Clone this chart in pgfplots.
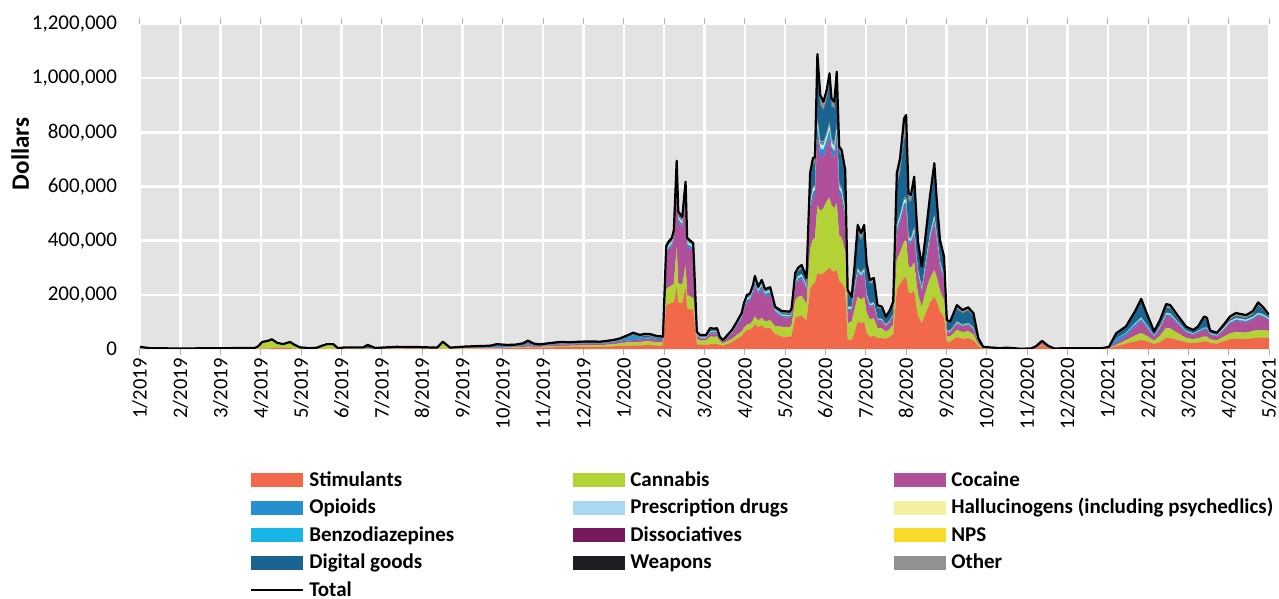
\documentclass[border=0pt]{standalone}
\usepackage{fontspec}
\setmainfont{Carlito}
\usepackage{pgfplots}
\usepackage{pgfplotstable}
\pgfplotsset{compat=1.18}

\definecolor{cSt}{RGB}{242,104,74}
\definecolor{cCa}{RGB}{178,210,53}
\definecolor{cCo}{RGB}{176,80,155}
\definecolor{cOp}{RGB}{36,144,208}
\definecolor{cPr}{RGB}{168,217,240}
\definecolor{cHa}{RGB}{243,240,160}
\definecolor{cBe}{RGB}{24,182,230}
\definecolor{cDi}{RGB}{118,25,92}
\definecolor{cNp}{RGB}{248,218,40}
\definecolor{cDg}{RGB}{26,100,145}
\definecolor{cWe}{RGB}{29,30,33}
\definecolor{cOt}{RGB}{143,145,146}
\definecolor{bgc}{RGB}{227,227,227}

\pgfplotsset{
  legend image code/.code={\fill[#1] (0pt,-3.5pt) rectangle (26pt,3.5pt);},
  totleg/.style={legend image code/.code={\draw[black,line width=1pt] (0pt,0pt) -- (26pt,0pt);}},
  frame/.style={scale only axis, width=564.5pt, height=162.5pt,
    xmin=0, xmax=28, ymin=0, ymax=1200},
}
\newcommand{\legbox}[1]{\makebox[129.5pt][l]{#1}}

% values in thousands of dollars, x in months from 1/2019
\pgfplotstableread{
x st ca co op pr ha be di np dg we ot tot
0.00 1 1 0 0 0 0 0 0 0 2 1 3 8
0.25 0.5 0.5 0 0 0 0 0 0 0 0.5 0 1.5 3
0.99 0.5 0.5 0 0 0 0 0 0 0 0 0 1 2
1.98 0.5 0.5 0 0 0 0 0 0 0 0.5 0 1.5 3
2.85 0.5 1.5 0 0 0 0 0 0 0 0.5 0 1.5 4
2.93 1 7 0 0 0 0 0 0 0 0 0 2 10
3.03 2 21 0 0 0 0 0 0 0 0 0 3 26
3.17 2 25 0 0 0 0 0 0 0 0 0 3 30
3.27 3 29 0 0 0 0 0 0 0 1 0 3 36
3.40 4 16 0 0 0 0 0 0 0 0 0 3 23
3.55 4 11 0 0 0 0 0 0 0 0 0 3 18
3.72 3 19 0 0 0 0 0 0 0 1 0 3 26
3.84 2 10 0 0 0 0 0 0 0 0 0 3 15
3.97 1 2 0 0 0 0 0 0 0 0 0 3 6
4.22 0.5 0.5 0 0 0 0 0 0 0 0 0 2 3
4.39 0.5 2 0 0 0 0 0 0 0 0 0 2.5 5
4.51 1 8 0 0 0 0 0 0 0 0 0 3 12
4.64 1 14 0 0 0 0 0 0 0 0 0 3 18
4.79 1 13 0 0 0 0 0 0 0 1 0 3 18
4.91 0.5 0.5 0 0 0 0 0 0 0 0 0 2 3
5.08 0.5 1 0 0 0 0 0 0 0 2 0 2.5 6
5.53 0.5 1 0 0 0 0 0 0 0 2 0 2.5 6
5.65 1 1 0 0 0 0 0 0 0 9 0 4 15
5.83 0.5 0.5 0 0 0 0 0 0 0 1 0 2 4
6.37 2 1 0 0 0 0 0 0 0 1 0 4 8
6.94 1 1 1 0 0 0 0 0 0 1 0 3 7
7.37 1 1 0 0 0 0 0 0 0 0 0 3 5
7.51 1 22 0 0 0 0 0 0 0 0 0 4 27
7.69 1 1 0 0 0 0 0 0 0 0 0 3 5
8.06 1 2 1 1 0 0 0 0 0 1 0 3 9
8.43 2 2 1 2 0 0 0 0 0 1 0 3 11
8.68 2 2 1 3 0 0 0 0 0 1 0 3 12
8.85 2 2 2 8 0 0 0 0 0 1 0 3 18
9.10 3 2 2 4 0 0 0 0 0 1 0 3 15
9.30 3 3 3 2 0 0 0 0 0 2 0 3 16
9.50 4 3 5 2 0 0 0 0 0 3 0 4 21
9.62 5 4 8 3 0 0 0 0 0 6 0 5 31
9.77 5 3 4 2 0 0 0 0 0 2 0 4 20
9.92 5 3 3 1 0 0 0 0 0 1 0 4 17
10.17 6 4 4 2 0 0 0 0 0 2 0 4 22
10.42 7 4 6 2 0 0 0 0 0 2 0 5 26
10.66 7 5 5 2 0 0 0 0 0 2 0 4 25
10.91 8 5 5 2 0 0 0 0 0 2 0 5 27
11.16 8 6 5 2 0 0 0 0 0 2 0 5 28
11.41 8 6 5 1 0 0 0 0 0 2 0 5 27
11.58 9 7 5 2 0 0 0 0 0 2 0 5 30
11.76 10 8 6 3 0 0 0 0 0 2 0 5 34
11.90 11 10 6 4 0 0 0 0 0 2 0 6 39
12.08 12 12 7 10 0 0 0 0 0 3 0 6 50
12.23 13 12 8 18 0 0 0 0 0 3 0 6 60
12.40 13 13 9 8 0 0 0 0 0 3 0 6 52
12.52 14 14 10 6 0 0 0 0 0 4 0 8 56
12.65 14 14 10 5 0 0 0 0 0 4 0 8 55
12.82 13 12 8 4 0 0 0 0 0 3 0 8 48
12.97 12 12 8 4 0 0 0 0 0 3 0 7 46
13.05 160 60 130 8 3 3 3 1 1 4 1 6 380
13.10 165 62 138 8 3 3 3 1 1 4 1 6 395
13.19 170 65 145 8 3 3 3 1 1 4 1 6 410
13.24 172 68 168 9 3 3 3 1 1 4 1 7 440
13.31 230 148 272 14 4 5 4 1 1 6 1 9 695
13.35 172 70 225 12 4 4 3 1 1 5 1 9 507
13.45 170 68 210 12 4 4 3 1 1 5 1 9 488
13.53 230 80 250 20 5 6 5 1 1 8 1 11 618
13.57 150 50 178 10 3 4 3 1 1 4 1 5 410
13.72 144 44 177 9 3 3 3 1 1 1 1 4 391
13.81 18 20 10 4 1 1 1 0 0 3 0 6 64
13.89 15 16 8 3 1 1 1 0 0 2 0 5 52
14.04 15 16 8 3 1 1 1 0 0 2 0 5 52
14.14 18 28 12 5 1 1 1 0 0 4 0 7 77
14.24 18 27 12 5 1 1 1 0 0 3 0 7 75
14.31 18 28 12 5 1 1 1 0 0 4 0 7 77
14.38 15 14 7 2 1 1 1 0 0 1 0 3 45
14.46 12 9 5 2 1 0 0 0 0 1 0 3 33
14.56 18 10 12 3 1 1 1 0 0 1 0 3 50
14.68 25 12 20 3 1 1 1 0 0 2 0 5 70
14.78 35 14 30 5 1 1 1 0 0 2 0 6 95
14.92 48 16 48 6 2 2 2 0 0 2 0 6 132
14.98 60 18 68 8 2 2 2 0 0 3 0 7 170
15.05 70 20 82 9 3 2 3 0 0 3 0 7 199
15.13 72 20 86 9 3 2 3 0 0 3 0 7 205
15.20 80 24 100 10 3 3 3 0 0 4 0 8 235
15.25 92 28 115 12 3 3 4 0 0 4 0 9 270
15.33 80 25 95 11 3 3 3 0 0 3 0 7 230
15.42 88 27 108 12 3 3 3 0 0 3 0 8 255
15.50 76 26 92 10 3 2 3 0 0 2 0 7 221
15.63 78 28 94 10 3 2 3 0 0 3 0 7 228
15.75 55 30 50 6 2 2 2 0 0 3 0 6 156
15.92 46 36 36 5 2 1 2 0 0 4 0 8 140
16.12 45 36 34 5 2 1 2 0 0 5 0 8 138
16.16 50 38 38 5 2 1 2 0 0 6 0 8 150
16.25 115 65 55 8 3 2 3 0 0 15 0 14 280
16.32 120 72 60 9 3 3 3 0 0 16 0 14 300
16.41 122 75 62 9 3 3 3 0 0 19 0 14 310
16.53 105 60 55 8 3 2 3 0 0 14 0 12 262
16.62 220 150 140 18 5 5 5 2 2 80 1 22 650
16.69 240 165 155 20 6 5 5 2 2 80 1 24 705
16.74 245 165 155 20 6 5 5 2 2 80 1 23 709
16.80 280 250 260 30 9 9 9 4 3 190 2 43 1089
16.87 275 235 205 25 8 8 8 3 3 130 2 36 938
16.95 280 240 190 25 8 8 8 3 3 115 2 31 913
17.03 290 255 200 25 8 8 8 3 3 120 2 34 956
17.10 300 260 220 28 8 8 8 3 3 140 2 38 1018
17.15 290 240 190 25 8 8 8 3 3 120 2 28 925
17.22 285 235 185 25 8 8 8 3 3 125 2 26 913
17.28 292 247 233 25 8 8 8 3 3 155 2 40 1024
17.34 250 170 150 20 6 6 6 2 2 110 1 24 747
17.40 245 165 145 20 6 6 6 2 2 115 1 22 735
17.49 220 140 120 18 5 5 5 2 2 125 1 18 661
17.55 35 60 45 8 3 3 3 1 1 45 1 13 218
17.65 32 70 40 6 2 2 2 1 1 28 1 8 193
17.72 60 85 65 8 3 3 3 1 1 60 1 14 304
17.80 101 92 87 8 3 3 3 1 1 130 1 28 458
17.88 95 88 80 8 3 3 3 1 1 118 1 27 428
17.96 100 92 88 8 3 3 3 1 1 130 1 28 458
18.02 60 75 55 7 2 2 2 1 1 90 1 21 317
18.10 45 65 45 6 2 2 2 1 1 70 1 15 255
18.20 48 65 46 6 2 2 2 1 1 72 1 16 262
18.29 40 38 28 4 1 1 1 1 1 35 1 11 162
18.40 40 36 26 4 1 1 1 1 1 34 1 10 156
18.50 38 25 20 3 1 1 1 1 1 20 1 7 119
18.60 45 30 24 4 1 1 1 1 1 27 1 8 144
18.68 55 35 30 4 1 1 1 1 1 35 1 10 175
18.77 220 110 100 14 5 5 5 2 2 140 1 45 649
18.85 240 115 110 15 5 5 5 2 2 150 1 54 704
18.95 262 135 123 16 6 6 6 2 2 212 2 80 852
19.00 267 135 123 16 6 6 6 2 2 217 2 82 864
19.06 210 95 85 12 4 4 4 2 1 130 1 27 575
19.12 205 95 85 12 4 4 4 2 1 130 1 26 569
19.20 215 105 100 13 5 5 5 2 1 150 1 34 636
19.26 150 90 80 10 4 4 4 1 1 110 1 21 476
19.30 120 80 70 9 3 3 3 1 1 85 1 15 391
19.39 95 60 55 8 3 3 3 1 1 62 1 12 304
19.47 125 80 80 10 3 3 3 1 1 80 1 15 402
19.59 170 90 140 12 4 4 4 1 1 110 1 25 562
19.70 193 99 173 14 5 5 5 1 1 155 1 34 686
19.76 175 90 135 12 4 4 4 1 1 100 1 23 550
19.84 140 75 90 10 3 3 3 1 1 60 1 15 402
19.94 115 65 75 9 3 3 3 1 1 52 1 13 341
20.01 28 20 15 3 1 1 1 1 1 28 1 7 107
20.09 27 19 14 3 1 1 1 1 1 26 1 6 101
20.26 44 26 22 4 2 1 1 1 1 44 1 15 162
20.40 38 24 20 4 1 1 1 1 1 40 1 12 144
20.54 40 26 22 4 1 1 1 1 1 44 1 12 154
20.67 32 22 18 3 1 1 1 1 1 40 1 11 132
20.79 10 8 6 1 1 0 0 0 0 10 0 4 40
20.91 2 2 1 0 0 0 0 0 0 1 0 2 8
21.08 1 2 1 0 0 0 0 0 0 0 0 2 6
21.33 0 1 0 0 0 0 0 0 0 0 0 2 3
21.50 1 2 0 0 0 0 0 0 0 0 0 2 5
21.68 0 1 0 0 0 0 0 0 0 0 0 2 3
21.83 0 0 0 0 0 0 0 0 0 0 0 1 1
22.10 1 0 0 0 0 0 0 0 0 0 0 1 2
22.22 4 0 3 0 0 0 0 0 0 0 0 3 10
22.37 14 3 9 0 0 0 0 0 0 0 0 4 30
22.52 5 0 4 0 0 0 0 0 0 0 0 3 12
22.67 1 0 0 0 0 0 0 0 0 0 0 1 2
23.02 1 0 0 0 0 0 0 0 0 0 0 2 3
23.86 1 0 0 0 0 0 0 0 0 0 0 2 3
24.03 2 1 1 2 0 0 0 0 0 0 0 2 8
24.21 10 5 8 15 0 0 0 0 0 14 0 6 58
24.45 20 12 15 10 1 1 1 0 0 18 0 5 83
24.68 28 22 32 9 2 1 2 0 0 36 0 8 140
24.83 33 26 44 8 2 2 2 0 0 60 0 8 185
24.98 28 20 28 6 2 1 2 0 0 34 0 6 127
25.15 18 12 14 3 1 1 1 0 0 10 0 5 65
25.30 26 24 26 4 2 1 2 0 0 16 0 7 108
25.45 40 38 44 6 2 2 2 0 0 18 0 14 166
25.55 40 36 44 6 2 2 2 0 0 17 0 13 162
25.72 34 26 34 5 2 1 2 0 0 13 0 10 127
25.94 25 16 20 4 1 1 1 0 0 9 0 6 83
26.12 22 14 16 3 1 1 1 0 0 7 0 5 70
26.24 24 16 20 4 1 1 1 0 0 10 0 6 83
26.39 28 18 24 6 1 1 1 0 0 32 0 9 120
26.46 28 18 24 6 1 1 1 0 0 28 0 8 115
26.54 22 14 16 3 1 1 1 0 0 5 0 5 68
26.71 20 12 14 3 1 1 1 0 0 4 0 4 60
26.91 30 18 26 4 2 2 2 0 0 4 0 8 96
27.03 36 22 36 4 2 2 2 0 0 5 0 11 120
27.18 38 24 42 5 2 2 2 0 0 6 0 12 133
27.43 36 24 38 5 2 2 2 0 0 5 0 11 125
27.60 40 27 42 5 2 2 2 0 0 8 0 12 140
27.73 41 29 52 6 2 2 2 0 0 26 0 12 172
27.85 42 28 48 5 2 2 2 0 0 15 0 11 155
28.00 42 25 38 4 2 2 2 0 0 3 0 9 127
}\sales

\begin{document}
\begin{tikzpicture}
\path[use as bounding box] (-70pt,-125pt) rectangle (569.5pt,174.5pt);
\begin{axis}[
  frame,
  stack plots=y,
  axis background/.style={fill=bgc},
  axis line style={draw=none},
  grid=major,
  grid style={white, line width=1.2pt},
  tick align=outside,
  major tick length=3pt,
  xtick={0,...,28},
  xticklabels={1/2019,2/2019,3/2019,4/2019,5/2019,6/2019,7/2019,8/2019,9/2019,10/2019,11/2019,12/2019,
    1/2020,2/2020,3/2020,4/2020,5/2020,6/2020,7/2020,8/2020,9/2020,10/2020,11/2020,12/2020,
    1/2021,2/2021,3/2021,4/2021,5/2021},
  xticklabel style={rotate=90, anchor=east, inner sep=1.5pt, font=\fontsize{10.3}{12}\selectfont},
  xtick style={draw=gray!60, line width=0.5pt},
  ytick={0,200,...,1200},
  yticklabels={0,{200,000},{400,000},{600,000},{800,000},{1,000,000},{1,200,000}},
  yticklabel style={font=\fontsize{10.5}{12}\selectfont, xshift=-5pt},
  ytick style={draw=none},
  ylabel={Dollars},
  ylabel style={font=\bfseries\fontsize{12.5}{14}\selectfont, at={(axis description cs:-0.106,0.6)}, anchor=center},
  legend columns=3,
  legend cell align=left,
  legend style={at={(axis description cs:0.0974,-0.3606)}, anchor=north west,
    draw=none, fill=none, inner sep=0pt, column sep=0pt, row sep=0pt,
    font=\bfseries\fontsize{10.5}{12}\selectfont,
    nodes={inner xsep=2.5pt, inner ysep=1.875pt, text height=8pt, text depth=2pt}},
]
\addplot[fill=cSt, draw=none] table[x=x, y=st] {\sales} \closedcycle;
\addlegendentry{\legbox{Stimulants}}
\addplot[fill=cCa, draw=none] table[x=x, y=ca] {\sales} \closedcycle;
\addlegendentry{\legbox{Cannabis}}
\addplot[fill=cCo, draw=none] table[x=x, y=co] {\sales} \closedcycle;
\addlegendentry{\legbox{Cocaine}}
\addplot[fill=cOp, draw=none] table[x=x, y=op] {\sales} \closedcycle;
\addlegendentry{\legbox{Opioids}}
\addplot[fill=cPr, draw=none] table[x=x, y=pr] {\sales} \closedcycle;
\addlegendentry{\legbox{Prescription drugs}}
\addplot[fill=cHa, draw=none] table[x=x, y=ha] {\sales} \closedcycle;
\addlegendentry{\legbox{Hallucinogens (including psychedlics)}}
\addplot[fill=cBe, draw=none] table[x=x, y=be] {\sales} \closedcycle;
\addlegendentry{\legbox{Benzodiazepines}}
\addplot[fill=cDi, draw=none] table[x=x, y=di] {\sales} \closedcycle;
\addlegendentry{\legbox{Dissociatives}}
\addplot[fill=cNp, draw=none] table[x=x, y=np] {\sales} \closedcycle;
\addlegendentry{\legbox{NPS}}
\addplot[fill=cDg, draw=none] table[x=x, y=dg] {\sales} \closedcycle;
\addlegendentry{\legbox{Digital goods}}
\addplot[fill=cWe, draw=none] table[x=x, y=we] {\sales} \closedcycle;
\addlegendentry{\legbox{Weapons}}
\addplot[fill=cOt, draw=none] table[x=x, y=ot] {\sales} \closedcycle;
\addlegendentry{\legbox{Other}}
\addlegendimage{totleg}
\addlegendentry{\legbox{Total}}
\end{axis}
% total line, same frame, not stacked
\begin{axis}[frame, hide axis]
\addplot[black, line width=1.1pt, line join=round] table[x=x, y=tot] {\sales};
\end{axis}
\end{tikzpicture}
\end{document}
